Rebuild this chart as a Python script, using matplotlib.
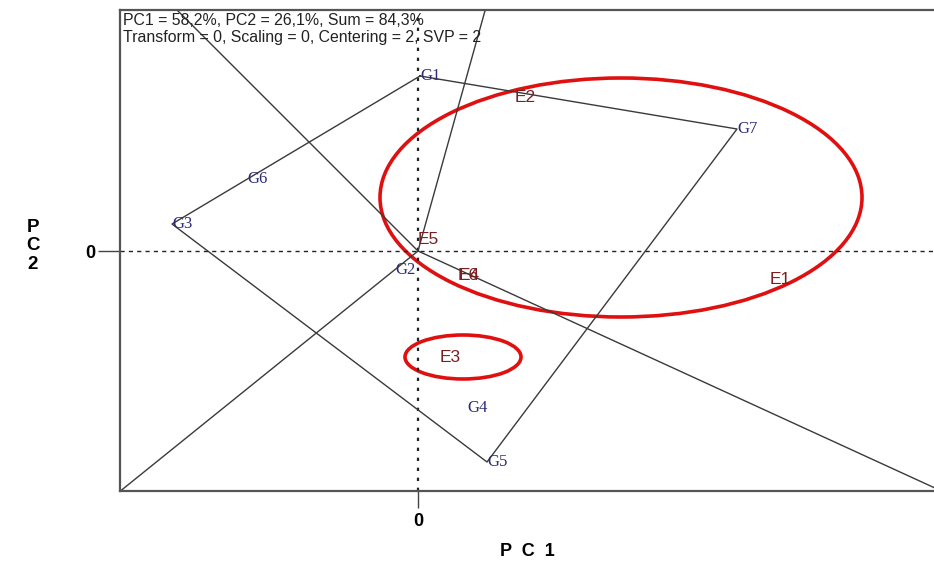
import numpy as np
import matplotlib.pyplot as plt
from matplotlib.patches import Ellipse

# genotype scores (PC1, PC2)
gen_names = ['G1', 'G2', 'G3', 'G4', 'G5', 'G6', 'G7']
gen_pc1 = [0.02, -0.23, -2.46, 0.49, 0.69, -1.71, 3.19]
gen_pc2 = [1.75, -0.19, 0.27, -1.57, -2.11, 0.72, 1.22]

# environment scores
env_names = ['E1', 'E2', 'E3', 'E4', 'E5', 'E6']
env_pc1 = [3.52, 0.97, 0.22, 0.41, 0.00, 0.40]
env_pc2 = [-0.29, 1.53, -1.07, -0.25, 0.11, -0.24]

# convex hull of the genotypes (which-won-where polygon)
hull = ['G1', 'G7', 'G5', 'G3', 'G1']

# sector rays from the origin, perpendicular to the hull edges
ray_pc1 = [0.70, 5.30, -3.10, -2.60]
ray_pc2 = [2.51, -2.43, -2.50, 2.60]

# highlighted mega-environments: center, width, height
circ_x = [2.03, 0.45]
circ_y = [0.535, -1.06]
circ_w = [4.82, 1.16]
circ_h = [2.39, 0.44]

fig = plt.figure(figsize=(9.34, 5.63), dpi=100)
ax = fig.add_axes([120 / 934, 72 / 563, 814 / 934, 481 / 563])

line_col = '#3a3a3a'
gen_col = '#2b2b78'
env_col = '#7a1f1f'

# axes through origin
ax.axvline(0, color='#222222', linestyle=(0, (1.5, 3)), linewidth=1.6)
ax.axhline(0, color='#222222', linestyle=(0, (3, 3)), linewidth=1.0)

# polygon
idx = [gen_names.index(g) for g in hull]
ax.plot([gen_pc1[i] for i in idx], [gen_pc2[i] for i in idx], color=line_col, linewidth=1.0)

# rays
for rx, ry in zip(ray_pc1, ray_pc2):
    ax.plot([0, rx], [0, ry], color=line_col, linewidth=1.0)

# labels
for n, x, y in zip(gen_names, gen_pc1, gen_pc2):
    ax.text(x, y, n, color=gen_col, fontsize=12, family='Liberation Serif',
            ha='left', va='center')
for n, x, y in zip(env_names, env_pc1, env_pc2):
    ax.text(x, y, n, color=env_col, fontsize=12.5, family='Liberation Sans',
            ha='left', va='center')

# red ellipses
for cx, cy, w, h in zip(circ_x, circ_y, circ_w, circ_h):
    ax.add_patch(Ellipse((cx, cy), w, h, fill=False, edgecolor='#e01010', linewidth=2.6))

ax.text(0.004, 0.993, 'PC1 = 58,2%, PC2 = 26,1%, Sum = 84,3%\nTransform = 0, Scaling = 0, Centering = 2, SVP = 2',
        transform=ax.transAxes, ha='left', va='top', fontsize=11.4, family='Liberation Sans',
        linespacing=1.1, color='#222222')

ax.set_xlim(-2.98, 5.16)
ax.set_ylim(-2.40, 2.41)

ax.set_xticks([0])
ax.set_yticks([0])
ax.set_xticklabels(['0'], fontsize=13, fontweight='bold', family='Liberation Sans')
ax.set_yticklabels(['0'], fontsize=13, fontweight='bold', family='Liberation Sans')
ax.tick_params(axis='x', length=12, width=1, pad=4, color='#444444')
ax.tick_params(axis='y', length=16, width=1, pad=1.5, color='#444444')

for s in ['left', 'bottom', 'top']:
    ax.spines[s].set_color('#555555')
    ax.spines[s].set_linewidth(1.6)
ax.spines['right'].set_visible(False)

fig.text(527 / 934, 1 - 551 / 563, 'P  C  1', ha='center', va='center', fontsize=13,
         fontweight='bold', family='Liberation Sans')
fig.text(33 / 934, 1 - 246 / 563, 'P\nC\n2', ha='center', va='center', fontsize=13.5,
         fontweight='bold', family='Liberation Sans', linespacing=1.1)

fig.savefig('out.png', dpi=100)
